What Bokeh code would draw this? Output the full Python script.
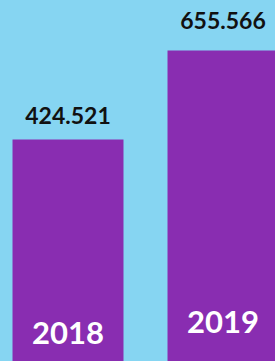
from bokeh.plotting import figure
from bokeh.models import ColumnDataSource, Range1d
from bokeh.core.properties import value
from bokeh.embed import file_html
from bokeh.resources import INLINE

years = ["2018", "2019"]
values = [424.521, 655.566]
value_labels = ["424.521", "655.566"]
xpos = [0, 1]

BG = "#86D5F2"
PURPLE = "#892DB1"

Y0 = -151.9
p = figure(width=275, height=361, output_backend="svg", toolbar_location=None,
           x_range=Range1d(-0.4355, 1.3387), y_range=Range1d(Y0, 785.3),
           min_border=0)
p.background_fill_color = BG
p.border_fill_color = BG
p.outline_line_color = None
p.xaxis.visible = False
p.yaxis.visible = False
p.xgrid.visible = False
p.ygrid.visible = False

src = ColumnDataSource(dict(x=xpos, top=values, base=[Y0] * len(xpos)))
p.vbar(x="x", top="top", bottom="base", width=0.716, source=src,
       fill_color=PURPLE, line_color=None)

offs = [-24, -30]
yoffs = [-29, -40]
for i in range(len(xpos)):
    s = ColumnDataSource(dict(x=[xpos[i]], y=[values[i]], t=[value_labels[i]],
                              b=[Y0], yr=[years[i]]))
    p.text(x="x", y="y", text="t", source=s, text_align="center",
           text_baseline="alphabetic", y_offset=offs[i],
           text_font=value("Lato"), text_font_style="bold",
           text_font_size="23px", text_color="#111111")
    p.text(x="x", y="b", text="yr", source=s, text_align="center",
           text_baseline="alphabetic", y_offset=yoffs[i],
           text_font=value("Lato"), text_font_style="bold",
           text_font_size="31px", text_color="white")

TEMPLATE = "{% block postamble %}<style>html,body{background:" + BG + ";}</style>{% endblock %}"
open("out.html", "w").write(file_html(p, INLINE, template=TEMPLATE))
